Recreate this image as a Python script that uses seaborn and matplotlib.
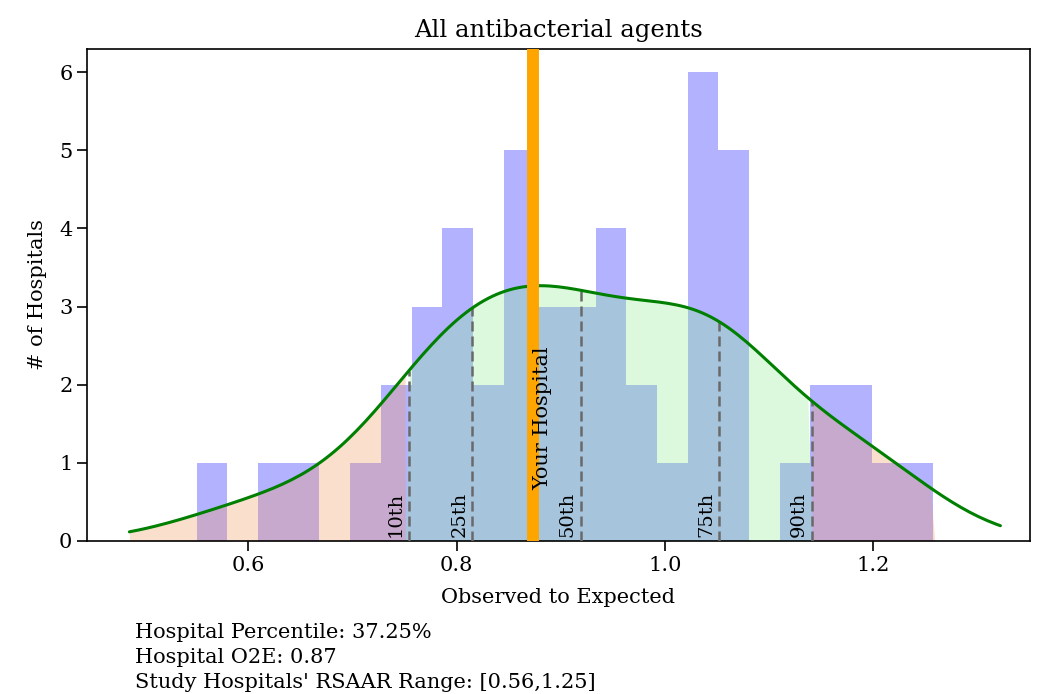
import numpy as np
import pandas as pd
import matplotlib
matplotlib.use("Agg")
import matplotlib.pyplot as plt
import seaborn as sns

# ---- data ----
title = "All antibacterial agents"
bin_first_edge = 0.5504
bin_width = 0.02945
counts = [1, 0, 1, 1, 0, 1, 2, 3, 4, 2, 5, 3, 3, 4, 2, 1, 6, 5, 0, 1, 2, 2, 1, 1]
pct_labels = ["10th", "25th", "50th", "75th", "90th"]
pct_values = [0.754, 0.815, 0.919, 1.052, 1.141]
hospital_o2e = 0.873
hospital_percentile = 37.25
rsaar_range = [0.56, 1.25]
x_ticks = [0.6, 0.8, 1.0, 1.2]
y_ticks = [0, 1, 2, 3, 4, 5, 6]

sns.set_style("ticks")
plt.rcParams["font.family"] = ["DejaVu Serif"]
plt.rcParams["font.size"] = 15
plt.rcParams["text.color"] = "black"
plt.rcParams["axes.labelcolor"] = "black"
plt.rcParams["xtick.color"] = "black"
plt.rcParams["ytick.color"] = "black"

edges = bin_first_edge + bin_width * np.arange(len(counts) + 1)
centers = (edges[:-1] + edges[1:]) / 2
df = pd.DataFrame({"o2e": centers, "n": np.asarray(counts, dtype=float)})

fig = plt.figure(figsize=(10.38, 6.94), dpi=100)
ax = fig.add_axes([0.0838, 0.2205, 0.9082, 0.7095])

sns.histplot(data=df, x="o2e", weights="n", binwidth=bin_width,
             binrange=(float(edges[0]), float(edges[-1])), kde=True,
             kde_kws={"cut": 1.0, "bw_adjust": 0.72}, color="blue", alpha=0.3,
             linewidth=0, line_kws={"linewidth": 2.2}, ax=ax)
kde_line = ax.lines[-1]
kde_line.set_color("green")
kde_line.set_zorder(5)
kx, ky = kde_line.get_xdata(), kde_line.get_ydata()

p10, p90 = pct_values[0], pct_values[-1]
ax.fill_between(kx, 0, ky, where=(kx <= p10), color="#f5965a", alpha=0.3,
                linewidth=0, interpolate=True)
ax.fill_between(kx, 0, ky, where=(kx >= p10) & (kx <= p90), color="lightgreen",
                alpha=0.3, linewidth=0, interpolate=True)
ax.fill_between(kx, 0, ky, where=(kx >= p90) & (kx <= edges[-1]), color="#f5965a",
                alpha=0.3, linewidth=0, interpolate=True)

for lab, pv in zip(pct_labels, pct_values):
    top = np.interp(pv, kx, ky)
    ax.plot([pv, pv], [0, top], color="dimgray", linestyle=(0, (4, 2)),
            linewidth=1.8, zorder=4)
    ax.text(pv - 0.004, 0.05, lab, rotation=90, ha="right", va="bottom",
            fontsize=14, zorder=6)

ax.axvline(hospital_o2e, color="orange", linewidth=8.6, zorder=6)
ax.text(hospital_o2e, 0.65, "Your Hospital", rotation=90, ha="left",
        va="bottom", fontsize=15, zorder=7)

ax.set_xlim(0.445, 1.35)
ax.set_ylim(0, 6.3)
ax.set_xticks(x_ticks)
ax.set_xticklabels([f"{t:.1f}" for t in x_ticks])
ax.set_yticks(y_ticks)
ax.set_xlabel("Observed to Expected", fontsize=15, labelpad=10)
ax.set_ylabel("# of Hospitals", fontsize=15, labelpad=9)
ax.set_title(title, fontsize=17.5, pad=8)
ax.tick_params(length=7, width=1.2, labelsize=15)
for s in ax.spines.values():
    s.set_linewidth(1.2)
    s.set_color("black")

fig.text(0.130, 0.0807, f"Hospital Percentile: {hospital_percentile:.2f}%",
         fontsize=15, va="baseline")
fig.text(0.130, 0.0447, f"Hospital O2E: {hospital_o2e:.2f}", fontsize=15,
         va="baseline")
fig.text(0.130, 0.0086,
         f"Study Hospitals' RSAAR Range: [{rsaar_range[0]:.2f},{rsaar_range[1]:.2f}]",
         fontsize=15, va="baseline")

fig.savefig("out.png", dpi=100)
